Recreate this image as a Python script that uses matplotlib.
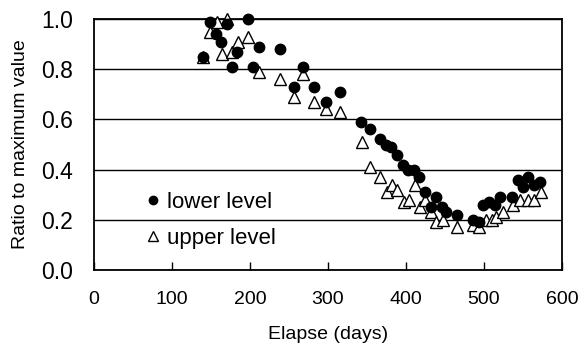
import matplotlib.pyplot as plt

plt.rcParams['font.family'] = ['Liberation Sans', 'DejaVu Sans']

# lower level (filled circles)
lower_days = [140, 149, 156, 163, 170, 177, 183, 197, 204, 211, 239, 257, 268, 282,
              297, 315, 342, 354, 367, 374, 381, 389, 396, 403, 410, 417, 424, 432,
              438, 446, 451, 465, 486, 494, 499, 507, 514, 521, 536, 543, 550, 557,
              564, 572]
lower_ratio = [0.85, 0.99, 0.94, 0.91, 0.98, 0.81, 0.87, 1.00, 0.81, 0.89, 0.88, 0.73,
               0.81, 0.73, 0.67, 0.71, 0.59, 0.56, 0.52, 0.50, 0.49, 0.46, 0.42, 0.40,
               0.40, 0.37, 0.31, 0.25, 0.29, 0.25, 0.23, 0.22, 0.20, 0.19, 0.26, 0.27,
               0.26, 0.29, 0.29, 0.36, 0.33, 0.37, 0.34, 0.35]

# upper level (open triangles)
upper_days = [140, 149, 158, 164, 171, 177, 184, 198, 212, 239, 257, 268, 282, 297,
              315, 343, 354, 367, 376, 382, 389, 397, 404, 411, 418, 424, 432, 439,
              447, 465, 486, 494, 503, 510, 516, 524, 537, 546, 556, 564, 573]
upper_ratio = [0.85, 0.95, 0.99, 0.86, 1.00, 0.87, 0.91, 0.93, 0.79, 0.76, 0.69, 0.78,
               0.67, 0.64, 0.63, 0.51, 0.41, 0.37, 0.31, 0.34, 0.32, 0.27, 0.28, 0.34,
               0.25, 0.28, 0.23, 0.19, 0.20, 0.17, 0.18, 0.17, 0.20, 0.20, 0.21, 0.23,
               0.26, 0.28, 0.28, 0.28, 0.31]

fig = plt.figure(figsize=(5.85, 3.54), dpi=100)
ax = fig.add_axes([94 / 585, 1 - 270 / 354, 468 / 585, 251 / 354])

ax.plot(lower_days, lower_ratio, 'o', color='black', markersize=7.5,
        label='lower level', zorder=4, clip_on=False)
ax.plot(upper_days, upper_ratio, '^', markerfacecolor='white', markeredgecolor='black',
        markersize=8.5, markeredgewidth=1.0, label='upper level', zorder=3, clip_on=False)

ax.set_xlim(0, 600)
ax.set_ylim(0, 1.0)
ax.set_xticks(range(0, 601, 100))
ax.set_yticks([0.0, 0.2, 0.4, 0.6, 0.8, 1.0])
ax.set_yticklabels(['0.0', '0.2', '0.4', '0.6', '0.8', '1.0'])
ax.yaxis.grid(True, color='black', linewidth=1.0)
ax.set_axisbelow(True)

ax.tick_params(axis='x', direction='in', length=6, width=1, labelsize=14, pad=15)
ax.tick_params(axis='y', length=0, labelsize=16.5, pad=15)
for s in ax.spines.values():
    s.set_linewidth(1.3)

ax.set_xlabel('Elapse (days)', fontsize=14, labelpad=13)
ax.set_ylabel('Ratio to maximum value', fontsize=14, labelpad=9)

ax.legend(loc='center left', bbox_to_anchor=(0.09, 0.198), frameon=False,
          fontsize=16, handlelength=0.5, handletextpad=0.4, labelspacing=0.65,
          borderpad=0, markerscale=0.8)

fig.savefig('out.png', dpi=100)
